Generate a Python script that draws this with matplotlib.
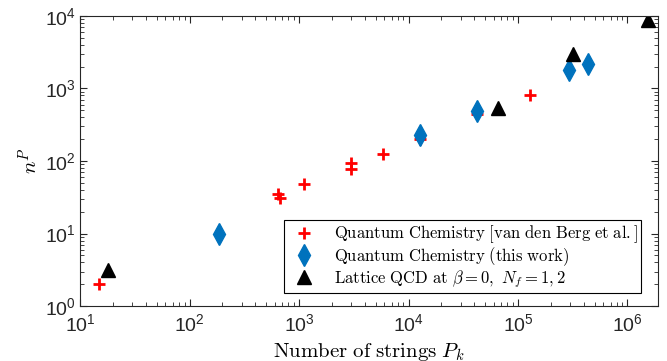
import matplotlib
matplotlib.use("Agg")
import matplotlib.pyplot as plt
import numpy as np

# data (x = number of strings P_k, y = n^P)
vdb_x = [15, 640, 670, 1100, 3000, 3000, 5800, 12800, 42000, 130000]
vdb_y = [2, 35, 31, 48, 93, 78, 125, 200, 440, 800]

this_x = [185, 12800, 42000, 290000, 440000]
this_y = [10, 230, 490, 1780, 2150]

qcd_x = [18, 65000, 320000, 1.55e6]
qcd_y = [3.1, 540, 3000, 8800]

plt.rcParams['mathtext.fontset'] = 'cm'
plt.rcParams['font.family'] = ['Liberation Sans', 'DejaVu Sans']

fig = plt.figure(figsize=(6.67, 3.61), dpi=100)
ax = fig.add_axes([0.12, 0.152, 0.8665, 0.804])

ax.plot(vdb_x, vdb_y, '+', color='red', ms=8, mew=2,
        label=r'$\mathrm{Quantum\ Chemistry\ [van\ den\ Berg\ et\ al.]}$')
ax.plot(this_x, this_y, 'd', color='#0072BD', ms=11, mec='#0072BD',
        label=r'$\mathrm{Quantum\ Chemistry\ (this\ work)}$')
ax.plot(qcd_x, qcd_y, '^', color='black', ms=10,
        label=r'$\mathrm{Lattice\ QCD\ at}\ \beta=0,\ N_f=1,2$')

ax.set_xscale('log')
ax.set_yscale('log')
ax.set_xlim(10, 1.9e6)
ax.set_ylim(1, 1e4)

ax.set_xlabel(r'$\mathrm{Number\ of\ strings}\ P_k$', fontsize=15, labelpad=4)
ax.set_ylabel(r'$n^P$', fontsize=15, labelpad=2)

ax.tick_params(which='both', direction='in', top=True, right=True,
               labelsize=14, colors='#262626')
ax.tick_params(which='major', length=5, pad=3)
ax.tick_params(axis='x', which='major', pad=5)
ax.tick_params(which='minor', length=3)
for s in ax.spines.values():
    s.set_color('#262626')
    s.set_linewidth(0.8)

leg = ax.legend(loc='lower right', bbox_to_anchor=(0.971, 0.045),
                borderaxespad=0, fontsize=12, fancybox=False,
                edgecolor='black', framealpha=1, borderpad=0.2,
                labelspacing=0.0, handletextpad=0.8, handlelength=2.0)
leg.get_frame().set_linewidth(0.8)

fig.savefig("out.png", dpi=100)
